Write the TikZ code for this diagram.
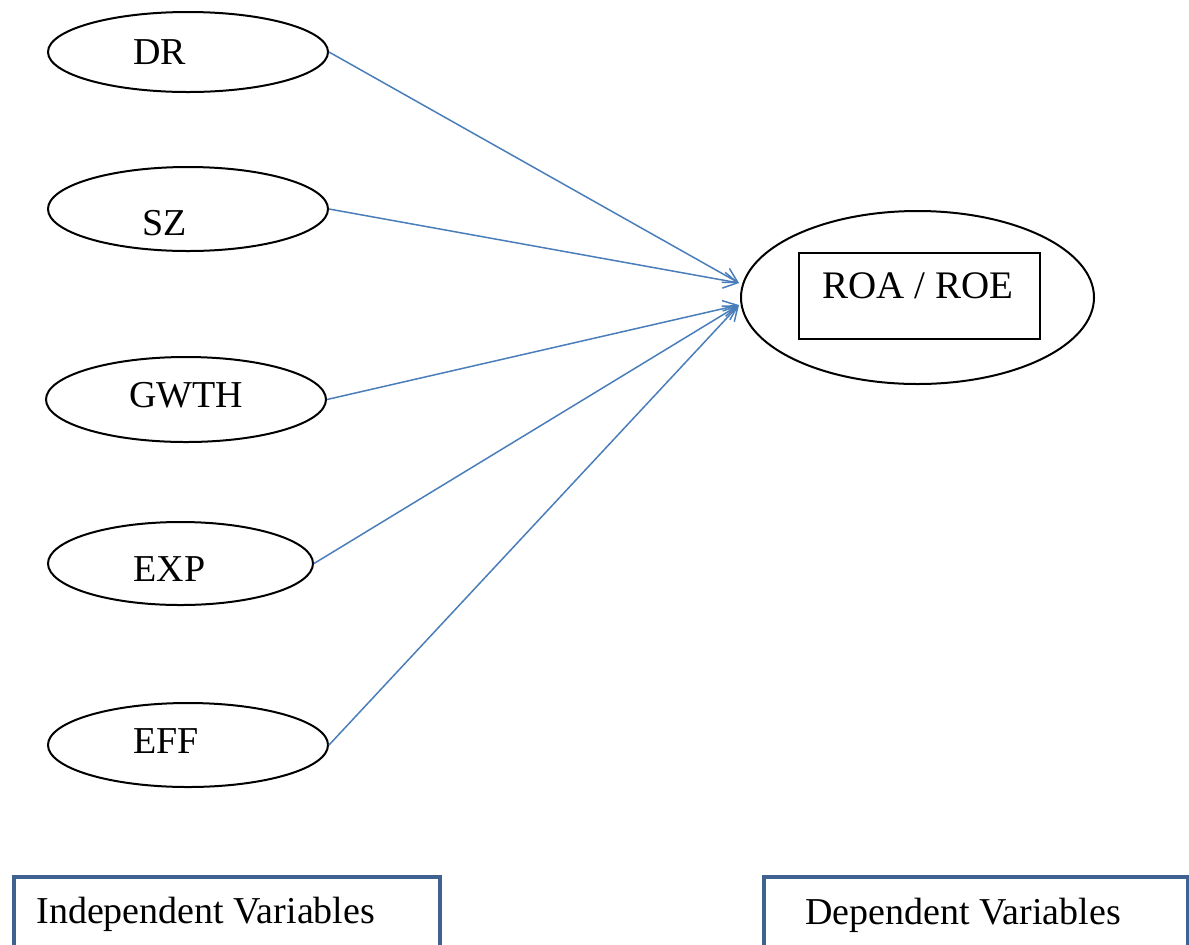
\documentclass[tikz,border=0pt]{standalone}
\usepackage{fontspec}
\setmainfont{Liberation Serif}
\usetikzlibrary{arrows.meta, calc, shapes.geometric}
\definecolor{cLink}{HTML}{4A7EBB}
\definecolor{cFrame}{HTML}{3F6290}

\begin{document}
\begin{tikzpicture}[
    x=0.5pt, y=-0.5pt, font=\fontsize{19}{22}\selectfont,
    var/.style={ellipse, draw=black, line width=1pt, inner sep=0pt},
    lbl/.style={anchor=base west, inner sep=0pt},
    link/.style={-{Straight Barb[length=7pt, width=8pt]}, line width=0.75pt, cLink},
    frame/.style={draw=cFrame, line width=2pt, anchor=north west, inner sep=0pt},
]
\useasboundingbox (0,0) rectangle (1189,944);

% ===================== Variables independientes =====================
\node[var, minimum width=140pt, minimum height=40pt] (dr) at (188,52) {};
\node[lbl] (drtxt) at (133,64) {DR};
\node[var, minimum width=140pt, minimum height=42pt] (sz) at (188,209) {};
\node[lbl] (sztxt) at (142,235) {SZ};
\node[var, minimum width=140pt, minimum height=42.5pt] (gwth) at (186,399.5) {};
\node[lbl] (gwthtxt) at (129,407) {GWTH};
\node[var, minimum width=132.5pt, minimum height=41.5pt] (exp) at (180.5,563.5) {};
\node[lbl] (exptxt) at (133,581) {EXP};
\node[var, minimum width=140pt, minimum height=42pt] (eff) at (188,745) {};
\node[lbl] (efftxt) at (133,753) {EFF};

% ===================== Variable dependiente =====================
\node[var, minimum width=176.5pt, minimum height=86.5pt] (roa) at (917.5,297.5) {};
\node[draw=black, line width=1.2pt, inner sep=0pt,
      minimum width=120.5pt, minimum height=43pt] (roabox) at (919.5,296) {};
\node[lbl, font=\fontsize{19.5}{22}\selectfont] (roatxt) at (822,298) {ROA / ROE};

% ===================== Flechas =====================
\coordinate (tipU) at ($(roa.west)+(-1,-14.5)$);
\coordinate (tipL) at ($(roa.west)+(-1,7.5)$);
\draw[link] (dr.east) -- (tipU);
\draw[link] (sz.east) -- (tipU);
\draw[link] (gwth.east) -- (tipL);
\draw[link] (exp.east) -- (tipL);
\draw[link] (eff.east) -- (tipL);

% ===================== Leyenda =====================
\node[frame, minimum width=213pt, minimum height=50pt] (indep) at (11.5,874.5) {};
\node[lbl] (indeptxt) at (36,923) {Independent Variables};
\node[frame, minimum width=212pt, minimum height=50pt] (dep) at (761.5,874.5) {};
\node[lbl] (deptxt) at (805,924) {Dependent Variables};

\end{tikzpicture}
\end{document}
